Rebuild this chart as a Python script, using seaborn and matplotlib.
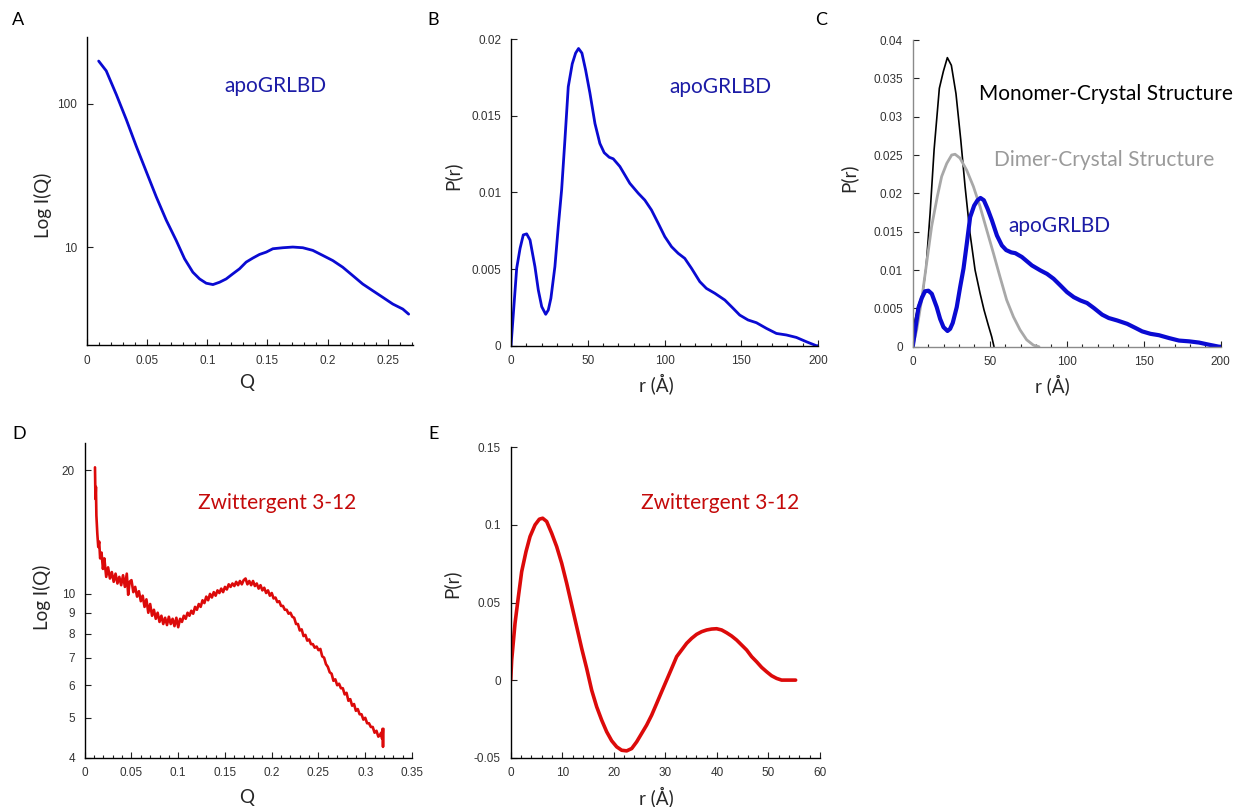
import matplotlib
matplotlib.use("Agg")
import matplotlib.pyplot as plt
from matplotlib.ticker import MultipleLocator, FixedLocator, NullLocator, FixedFormatter
import seaborn as sns

# ---------------- data ----------------
# A: apoGRLBD scattering curve
a_q = [0.0097, 0.0160, 0.0244, 0.0327, 0.0410, 0.0493, 0.0576, 0.0659, 0.0742,
       0.0811, 0.0880, 0.0936, 0.0991, 0.1047, 0.1102, 0.1157, 0.1213, 0.1268,
       0.1323, 0.1379, 0.1434, 0.1490, 0.1545, 0.1628, 0.1711, 0.1794, 0.1877,
       0.1960, 0.2043, 0.2126, 0.2209, 0.2292, 0.2375, 0.2458, 0.2542, 0.2625,
       0.2674]
a_i = [199, 170, 116, 77.6, 50.5, 33.6, 22.4, 15.4, 11.1,
       8.28, 6.67, 5.99, 5.59, 5.47, 5.68, 5.99, 6.51, 7.05,
       7.85, 8.38, 8.88, 9.22, 9.73, 9.89, 10.0, 9.89, 9.48,
       8.74, 8.05, 7.23, 6.32, 5.52, 4.96, 4.46, 4.0, 3.69,
       3.40]

# B / C: apoGRLBD pair-distance distribution
apo_r = [0, 3.7, 5.9, 8.0, 10.2, 12.4, 15.6, 17.8, 20.0, 22.6, 24.3, 26.0,
         28.6, 30.8, 33.0, 35.1, 37.3, 39.9, 42.1, 44.0, 46.2, 48.6, 51.4,
         54.7, 57.9, 60.7, 64.0, 66.6, 70.9, 77.4, 82.9, 87.2, 91.5, 95.9,
         100.2, 104.6, 108.9, 113.2, 117.6, 123.0, 127.3, 132.8, 139.3,
         144.7, 149.0, 154.4, 159.9, 166.4, 172.9, 179.4, 185.9, 192.4,
         198.9, 200]
apo_p = [0, 0.00505, 0.00635, 0.00723, 0.0073, 0.0069, 0.00516, 0.00363,
         0.00255, 0.00205, 0.00233, 0.0031, 0.00516, 0.00777, 0.0102, 0.0134,
         0.0169, 0.0184, 0.0191, 0.0194, 0.0191, 0.018, 0.0165, 0.0145,
         0.0132, 0.0126, 0.0123, 0.0122, 0.0117, 0.0106, 0.00995, 0.0095,
         0.00886, 0.00799, 0.00712, 0.00646, 0.00603, 0.0057, 0.00505,
         0.00418, 0.00374, 0.00342, 0.00298, 0.00244, 0.002, 0.00168,
         0.0015, 0.00113, 0.0008, 0.0007, 0.00054, 0.00026, 0.0, 0.0]

# C: crystal-structure P(r)
mono_r = [0, 1.5, 3.7, 6.5, 8.7, 11.3, 13.9, 17.3, 19.9, 22.5, 25.1, 28.1,
          31.2, 34.0, 37.2, 40.5, 43.7, 46.3, 49.1, 51.3, 52.8]
mono_p = [0, 0.0035, 0.0054, 0.007, 0.0104, 0.0174, 0.0257, 0.0337, 0.0359,
          0.0377, 0.0367, 0.033, 0.027, 0.0209, 0.0148, 0.01, 0.007, 0.0048,
          0.0028, 0.0013, 0.0]
dimer_r = [0, 2.6, 5.8, 8.7, 12.3, 16.0, 18.8, 22.1, 25.3, 27.5, 30.7, 35.1,
           39.4, 43.7, 48.1, 52.4, 56.7, 61.0, 65.4, 69.7, 74.0, 78.4, 82.0]
dimer_p = [0, 0.0022, 0.0061, 0.0104, 0.0157, 0.0196, 0.0222, 0.0239, 0.025,
           0.0251, 0.0246, 0.023, 0.0209, 0.0183, 0.0152, 0.0122, 0.0091,
           0.0061, 0.0039, 0.0022, 0.0009, 0.0002, 0.0]

# D: Zwittergent 3-12 scattering curve
d_q = [0.0110, 0.0115, 0.0120, 0.0125, 0.0135, 0.0145, 0.0155, 0.0165, 0.0180,
       0.0195, 0.0210, 0.0230, 0.0250, 0.0270, 0.0290, 0.0310, 0.0330, 0.0350,
       0.0370, 0.0390, 0.0410, 0.0430, 0.0450, 0.0465, 0.0480, 0.0500, 0.0520,
       0.0540, 0.0560, 0.0580, 0.0600, 0.0620, 0.0640, 0.0660, 0.0680, 0.0700,
       0.0720, 0.0740, 0.0760, 0.0780, 0.0800, 0.0820, 0.0840, 0.0860, 0.0880,
       0.0900, 0.0920, 0.0940, 0.0960, 0.0980, 0.1000, 0.1020, 0.1040, 0.1060,
       0.1080, 0.1100, 0.1120, 0.1140, 0.1160, 0.1180, 0.1200, 0.1220, 0.1240,
       0.1260, 0.1280, 0.1300, 0.1320, 0.1340, 0.1360, 0.1380, 0.1400, 0.1420,
       0.1440, 0.1460, 0.1480, 0.1500, 0.1520, 0.1540, 0.1560, 0.1580, 0.1600,
       0.1620, 0.1640, 0.1660, 0.1680, 0.1700, 0.1720, 0.1740, 0.1760, 0.1780,
       0.1800, 0.1820, 0.1840, 0.1860, 0.1880, 0.1900, 0.1920, 0.1940, 0.1960,
       0.1980, 0.2000, 0.2020, 0.2040, 0.2060, 0.2080, 0.2100, 0.2120, 0.2140,
       0.2160, 0.2180, 0.2200, 0.2220, 0.2240, 0.2260, 0.2280, 0.2300, 0.2320,
       0.2340, 0.2360, 0.2380, 0.2400, 0.2420, 0.2440, 0.2460, 0.2480, 0.2500,
       0.2520, 0.2540, 0.2560, 0.2580, 0.2600, 0.2620, 0.2640, 0.2660, 0.2680,
       0.2700, 0.2720, 0.2740, 0.2760, 0.2780, 0.2800, 0.2820, 0.2840, 0.2860,
       0.2880, 0.2900, 0.2920, 0.2940, 0.2960, 0.2980, 0.3000, 0.3020, 0.3040,
       0.3060, 0.3080, 0.3100, 0.3120, 0.3140, 0.3160, 0.3170, 0.3180, 0.3185,
       0.3190, 0.3195]
d_i = [20.3, 17.0, 18.2, 15.5, 14.0, 13.0, 13.4, 12.2, 12.6,
       11.5, 12.2, 11.0, 11.6, 10.9, 11.3, 10.7, 11.2, 10.6,
       11.0, 10.5, 11.1, 10.4, 11.2, 9.95, 10.7, 10.8, 10.1,
       10.4, 9.85, 10.15, 9.6, 9.9, 9.3, 9.7, 9.0, 9.45,
       8.85, 9.15, 8.7, 9.0, 8.55, 8.85, 8.45, 8.75, 8.4,
       8.8, 8.45, 8.7, 8.35, 8.75, 8.3, 8.7, 8.55, 8.85,
       8.7, 9.0, 8.85, 9.1, 8.95, 9.3, 9.15, 9.45, 9.3,
       9.65, 9.5, 9.85, 9.65, 10.0, 9.8, 10.1, 9.9, 10.2,
       10.05, 10.3, 10.1, 10.4, 10.25, 10.55, 10.4, 10.6, 10.45,
       10.7, 10.5, 10.75, 10.55, 10.8, 10.9, 10.55, 10.75, 10.5,
       10.75, 10.45, 10.6, 10.3, 10.5, 10.2, 10.35, 10.05, 10.2,
       9.9, 10.05, 9.75, 9.8, 9.55, 9.6, 9.35, 9.35, 9.15,
       9.15, 8.95, 9.0, 8.8, 8.75, 8.45, 8.45, 8.15, 8.2,
       7.9, 7.95, 7.7, 7.75, 7.55, 7.55, 7.4, 7.45, 7.3,
       7.35, 7.05, 7.0, 6.75, 6.65, 6.45, 6.4, 6.15, 6.2,
       6.0, 6.05, 5.9, 5.9, 5.7, 5.75, 5.5, 5.55, 5.35,
       5.4, 5.2, 5.25, 5.1, 5.1, 4.95, 5.0, 4.85, 4.85,
       4.75, 4.75, 4.6, 4.65, 4.5, 4.55, 4.6, 4.45, 4.7,
       4.25, 4.7]

# E: Zwittergent 3-12 P(r)
e_r = [0, 0.19, 0.84, 1.49, 2.13, 2.97, 3.75, 4.72, 5.56, 6.2, 6.98, 7.95,
       8.92, 9.89, 10.86, 11.83, 12.8, 13.77, 14.74, 15.71, 16.68, 17.65,
       18.62, 19.59, 20.56, 21.53, 22.5, 23.47, 24.43, 25.4, 26.37, 27.34,
       28.31, 29.28, 30.25, 31.22, 32.19, 33.16, 34.13, 35.1, 36.07, 37.04,
       38.01, 38.98, 39.95, 40.92, 41.89, 42.86, 43.83, 44.8, 45.77, 46.74,
       47.71, 48.68, 49.64, 50.61, 51.58, 52.55, 53.52, 55.27]
e_p = [0, 0.0129, 0.0366, 0.0538, 0.0699, 0.0828, 0.0925, 0.1, 0.1037,
       0.1043, 0.1022, 0.0946, 0.086, 0.0753, 0.0624, 0.0484, 0.0344,
       0.0204, 0.0075, -0.0065, -0.0172, -0.0258, -0.0333, -0.0391, -0.043,
       -0.0452, -0.0456, -0.0441, -0.0398, -0.0344, -0.029, -0.0226, -0.0151,
       -0.0075, 0.0, 0.0075, 0.0151, 0.0194, 0.0237, 0.0269, 0.0295, 0.0312,
       0.0323, 0.0329, 0.0331, 0.0323, 0.0305, 0.0284, 0.0258, 0.0226,
       0.0194, 0.0151, 0.0118, 0.0082, 0.0054, 0.0028, 0.0011, 0.0, 0.0, 0.0]

# ---------------- styling ----------------
sns.set_theme(style="ticks")
plt.rcParams["font.family"] = ["Lato", "DejaVu Sans"]

BLUE = "#0a0ad2"
NAVY = "#1c1ca6"
RED = "#dc0a0a"
DARKRED = "#c40a0a"
GRAY = "#a8a8a8"
TICK_FONT = ["Liberation Sans", "DejaVu Sans"]
NOTE_SIZE = 15

W, H = 1241, 807
fig = plt.figure(figsize=(W / 100, H / 100), dpi=100)


def box(left, top, right, bottom):
    return [left / W, 1 - bottom / H, (right - left) / W, (bottom - top) / H]


def style_axes(ax, spine_color="black"):
    for s in ("top", "right"):
        ax.spines[s].set_visible(False)
    for s in ("left", "bottom"):
        ax.spines[s].set_color(spine_color)
        ax.spines[s].set_linewidth(1.0)
    ax.tick_params(which="major", direction="in", length=4, width=0.8,
                   color="#222222", labelsize=8.5, labelcolor="#333333", pad=7)
    ax.tick_params(which="minor", direction="in", length=2.5, width=0.8,
                   color="#222222")
    for lab in ax.get_xticklabels() + ax.get_yticklabels():
        lab.set_family(TICK_FONT)


def labels(ax, xl, yl, xpos, ypos):
    ax.set_xlabel(xl, fontsize=13.5, va="center")
    ax.set_ylabel(yl, fontsize=13.5, va="center")
    ax.xaxis.set_label_coords(*xpos)
    ax.yaxis.set_label_coords(*ypos)


# ---- A ----
axA = fig.add_axes(box(87, 37, 413, 345))
sns.lineplot(x=a_q, y=a_i, ax=axA, color=BLUE, lw=2.0, sort=False)
axA.set_yscale("log")
axA.set_xlim(0, 0.271)
axA.set_ylim(2.07, 293)
axA.xaxis.set_major_locator(FixedLocator([0, 0.05, 0.1, 0.15, 0.2, 0.25]))
axA.xaxis.set_major_formatter(FixedFormatter(["0", "0.05", "0.1", "0.15", "0.2", "0.25"]))
axA.xaxis.set_minor_locator(MultipleLocator(0.01))
axA.yaxis.set_major_locator(FixedLocator([10, 100]))
axA.yaxis.set_major_formatter(FixedFormatter(["10", "100"]))
axA.yaxis.set_minor_locator(NullLocator())
style_axes(axA)
labels(axA, "Q", "Log I(Q)", (0.49, -0.123), (-0.135, 0.455))
axA.text(0.42, 0.84, "apoGRLBD", transform=axA.transAxes, color=NAVY,
         fontsize=NOTE_SIZE, va="center", ha="left")

# ---- B ----
axB = fig.add_axes(box(511, 39.3, 818, 345.7))
sns.lineplot(x=apo_r, y=apo_p, ax=axB, color=BLUE, lw=2.0, sort=False)
axB.set_xlim(0, 200)
axB.set_ylim(0, 0.02)
axB.xaxis.set_major_locator(MultipleLocator(50))
axB.xaxis.set_minor_locator(MultipleLocator(10))
axB.yaxis.set_major_locator(FixedLocator([0, 0.005, 0.01, 0.015, 0.02]))
axB.yaxis.set_major_formatter(FixedFormatter(["0", "0.005", "0.01", "0.015", "0.02"]))
style_axes(axB)
labels(axB, "r (Å)", "P(r)", (0.473, -0.123), (-0.19, 0.555))
axB.text(0.515, 0.845, "apoGRLBD", transform=axB.transAxes, color=NAVY,
         fontsize=NOTE_SIZE, va="center", ha="left")

# ---- C ----
axC = fig.add_axes(box(912.7, 40, 1220.7, 346.7))
sns.lineplot(x=mono_r, y=mono_p, ax=axC, color="black", lw=1.2, sort=False)
sns.lineplot(x=dimer_r, y=dimer_p, ax=axC, color=GRAY, lw=2.0, sort=False)
sns.lineplot(x=apo_r, y=apo_p, ax=axC, color=BLUE, lw=3.0, sort=False)
axC.set_xlim(0, 200)
axC.set_ylim(0, 0.04)
axC.xaxis.set_major_locator(MultipleLocator(50))
axC.xaxis.set_minor_locator(MultipleLocator(10))
axC.yaxis.set_major_locator(FixedLocator([0, 0.005, 0.01, 0.015, 0.02, 0.025, 0.03, 0.035, 0.04]))
axC.yaxis.set_major_formatter(FixedFormatter(["0", "0.005", "0.01", "0.015", "0.02",
                                              "0.025", "0.03", "0.035", "0.04"]))
style_axes(axC, spine_color="#8a8a8a")
labels(axC, "r (Å)", "P(r)", (0.455, -0.123), (-0.21, 0.55))
axC.text(0.215, 0.825, "Monomer-Crystal Structure", transform=axC.transAxes,
         color="black", fontsize=NOTE_SIZE, va="center", ha="left")
axC.text(0.265, 0.61, "Dimer-Crystal Structure", transform=axC.transAxes,
         color="#9a9a9a", fontsize=NOTE_SIZE, va="center", ha="left")
axC.text(0.31, 0.395, "apoGRLBD", transform=axC.transAxes, color=NAVY,
         fontsize=NOTE_SIZE, va="center", ha="left")

# ---- D ----
axD = fig.add_axes(box(84.7, 442.7, 412, 757.7))
sns.lineplot(x=d_q, y=d_i, ax=axD, color=RED, lw=1.9, sort=False)
axD.set_yscale("log")
axD.set_xlim(0, 0.35)
axD.set_ylim(4, 23.3)
axD.xaxis.set_major_locator(FixedLocator([0, 0.05, 0.1, 0.15, 0.2, 0.25, 0.3, 0.35]))
axD.xaxis.set_major_formatter(FixedFormatter(["0", "0.05", "0.1", "0.15", "0.2",
                                              "0.25", "0.3", "0.35"]))
axD.xaxis.set_minor_locator(MultipleLocator(0.01))
d_ticks = [4, 5, 6, 7, 8, 9, 10, 20]
axD.yaxis.set_major_locator(FixedLocator(d_ticks))
axD.yaxis.set_major_formatter(FixedFormatter([str(t) for t in d_ticks]))
axD.yaxis.set_minor_locator(NullLocator())
style_axes(axD)
labels(axD, "Q", "Log I(Q)", (0.495, -0.125), (-0.13, 0.51))
axD.text(0.345, 0.81, "Zwittergent 3-12", transform=axD.transAxes, color=DARKRED,
         fontsize=NOTE_SIZE, va="center", ha="left")

# ---- E ----
axE = fig.add_axes(box(510.7, 447.3, 820, 757.7))
sns.lineplot(x=e_r, y=e_p, ax=axE, color=RED, lw=2.6, sort=False)
axE.set_xlim(0, 60)
axE.set_ylim(-0.05, 0.15)
axE.xaxis.set_major_locator(MultipleLocator(10))
axE.xaxis.set_minor_locator(MultipleLocator(2))
axE.yaxis.set_major_locator(FixedLocator([-0.05, 0, 0.05, 0.1, 0.15]))
axE.yaxis.set_major_formatter(FixedFormatter(["-0.05", "0", "0.05", "0.1", "0.15"]))
style_axes(axE)
labels(axE, "r (Å)", "P(r)", (0.47, -0.126), (-0.19, 0.56))
axE.text(0.42, 0.82, "Zwittergent 3-12", transform=axE.transAxes, color=DARKRED,
         fontsize=NOTE_SIZE, va="center", ha="left")

# ---- panel letters ----
for letter, (px, py) in {"A": (12, 20), "B": (427, 20), "C": (815, 20),
                         "D": (12, 434), "E": (428, 434)}.items():
    fig.text(px / W, 1 - py / H, letter, fontsize=13, color="black",
             ha="left", va="center")

fig.savefig("out.png", dpi=100)
